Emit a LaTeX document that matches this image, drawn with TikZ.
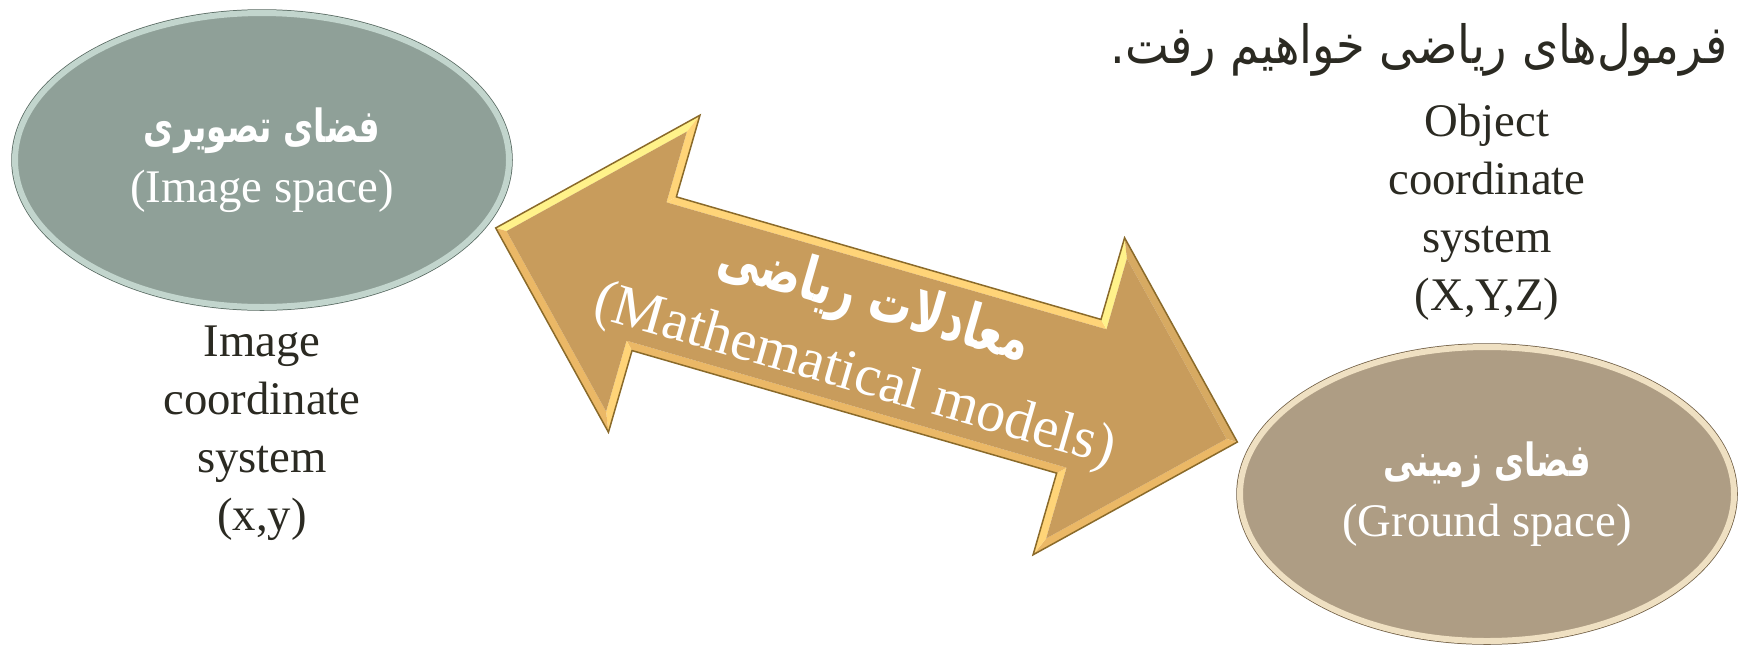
\documentclass[tikz,border=0pt]{standalone}
\usepackage{fontspec}
\setmainfont{Liberation Serif}
\newfontfamily\farsi[Script=Arabic, FakeStretch=0.88]{DejaVu Sans}
\newfontfamily\farsibf[Script=Arabic, FakeStretch=0.72]{DejaVu Sans Bold}
\TeXXeTstate=1
\usepackage{tikz}
\usetikzlibrary{
  positioning,
  shapes.geometric,
}
\definecolor{imgfill}{HTML}{8FA098}
\definecolor{imgrim}{HTML}{C2D5CD}
\definecolor{imgedge}{HTML}{55675F}
\definecolor{gndfill}{HTML}{AE9D84}
\definecolor{gndrim}{HTML}{EFE0C2}
\definecolor{gndedge}{HTML}{6E5C42}
\definecolor{arrfill}{HTML}{C89C5C}
\definecolor{arredge}{HTML}{8A6A2A}
\definecolor{bevhi}{HTML}{FFF28A}
\definecolor{bevmid}{HTML}{FFD478}
\definecolor{bevlo}{HTML}{EBB866}
\definecolor{bevdk}{HTML}{D7AA62}
\definecolor{txtdark}{HTML}{2B2A22}

\begin{document}
\begin{tikzpicture}[
    x=0.1mm, y=0.1mm,
    spacenode/.style={ellipse, inner sep=0pt, outer sep=0pt, minimum width=49.4mm,
      minimum height=29.4mm, align=center, text=white, line width=0.6mm,
      font=\fontsize{13.3}{17}\selectfont},
    imgspace/.style={spacenode, fill=imgfill, draw=imgrim, preaction={draw=imgedge, line width=0.75mm}},
    gndspace/.style={spacenode, fill=gndfill, draw=gndrim, preaction={draw=gndedge, line width=0.75mm}},
    coordtxt/.style={inner sep=0pt, align=center, text=txtdark, font=\fontsize{13.3}{16.5}\selectfont},
    arrtxt/.style={inner sep=0pt, text=white, rotate=-16.1},
  ]
  \path[use as bounding box, fill=white] (0,0) rectangle (1740,645);

  % title line, top right
  \node[anchor=east, inner sep=0pt, text=txtdark, font=\farsi\fontsize{15}{18}\selectfont]
    (title) at (1728,595) {\beginR فرمول‌های ریاضی خواهیم رفت.\endR};

  % the two spaces
  \node[imgspace] (imgsp) at (262,485)
    {{\farsibf\fontsize{13}{17}\selectfont\beginR فضای تصویری\endR}\\(Image space)};
  \node[gndspace] (gndsp) at (1487,151)
    {{\farsibf\fontsize{13}{17}\selectfont\beginR فضای زمینی\endR}\\(Ground space)};

  \node[coordtxt, below=1.8mm of imgsp] (imgcoord) {Image\\coordinate\\system\\(x,y)};
  \node[coordtxt, above=2.6mm of gndsp] (objcoord) {Object\\coordinate\\system\\(X,Y,Z)};

  % double arrow
  \begin{scope}[shift={(866.5,310)}, rotate=-16.1]
    \foreach \n/\x/\y in {L/-386/0, A/-221/165, B/-221/80, C/221/80, D/221/165,
        R/386/0, E/221/-165, F/221/-80, G/-221/-80, H/-221/-165}
      \coordinate (o\n) at (\x,\y);
    \foreach \n/\x/\y in {L/-374.7/0, A/-229/145.7, B/-229/72, C/229/72, D/229/145.7,
        R/374.7/0, E/229/-145.7, F/229/-72, G/-229/-72, H/-229/-145.7}
      \coordinate (i\n) at (\x,\y);
    \foreach \p/\q/\c in {L/A/bevhi, A/B/bevmid, B/C/bevmid, C/D/bevhi, D/R/bevdk,
        R/E/bevlo, E/F/bevmid, F/G/bevlo, G/H/bevmid, H/L/bevlo}
      \fill[\c] (o\p) -- (o\q) -- (i\q) -- (i\p) -- cycle;
    \fill[arrfill] (iL) -- (iA) -- (iB) -- (iC) -- (iD) -- (iR) -- (iE) -- (iF) -- (iG) -- (iH) -- cycle;
    \draw[arredge, line width=0.15mm] (oL) -- (oA) -- (oB) -- (oC) -- (oD) -- (oR) -- (oE) -- (oF) -- (oG) -- (oH) -- cycle;

    \node[arrtxt, font=\farsibf\fontsize{17}{20}\selectfont] (mathfa) at (-2,33)
      {\beginR معادلات ریاضی\endR};
    \node[arrtxt, font=\fontsize{16.5}{20}\selectfont] (mathen) at (0,-44)
      {(Mathematical models)};
  \end{scope}
\end{tikzpicture}
\end{document}
